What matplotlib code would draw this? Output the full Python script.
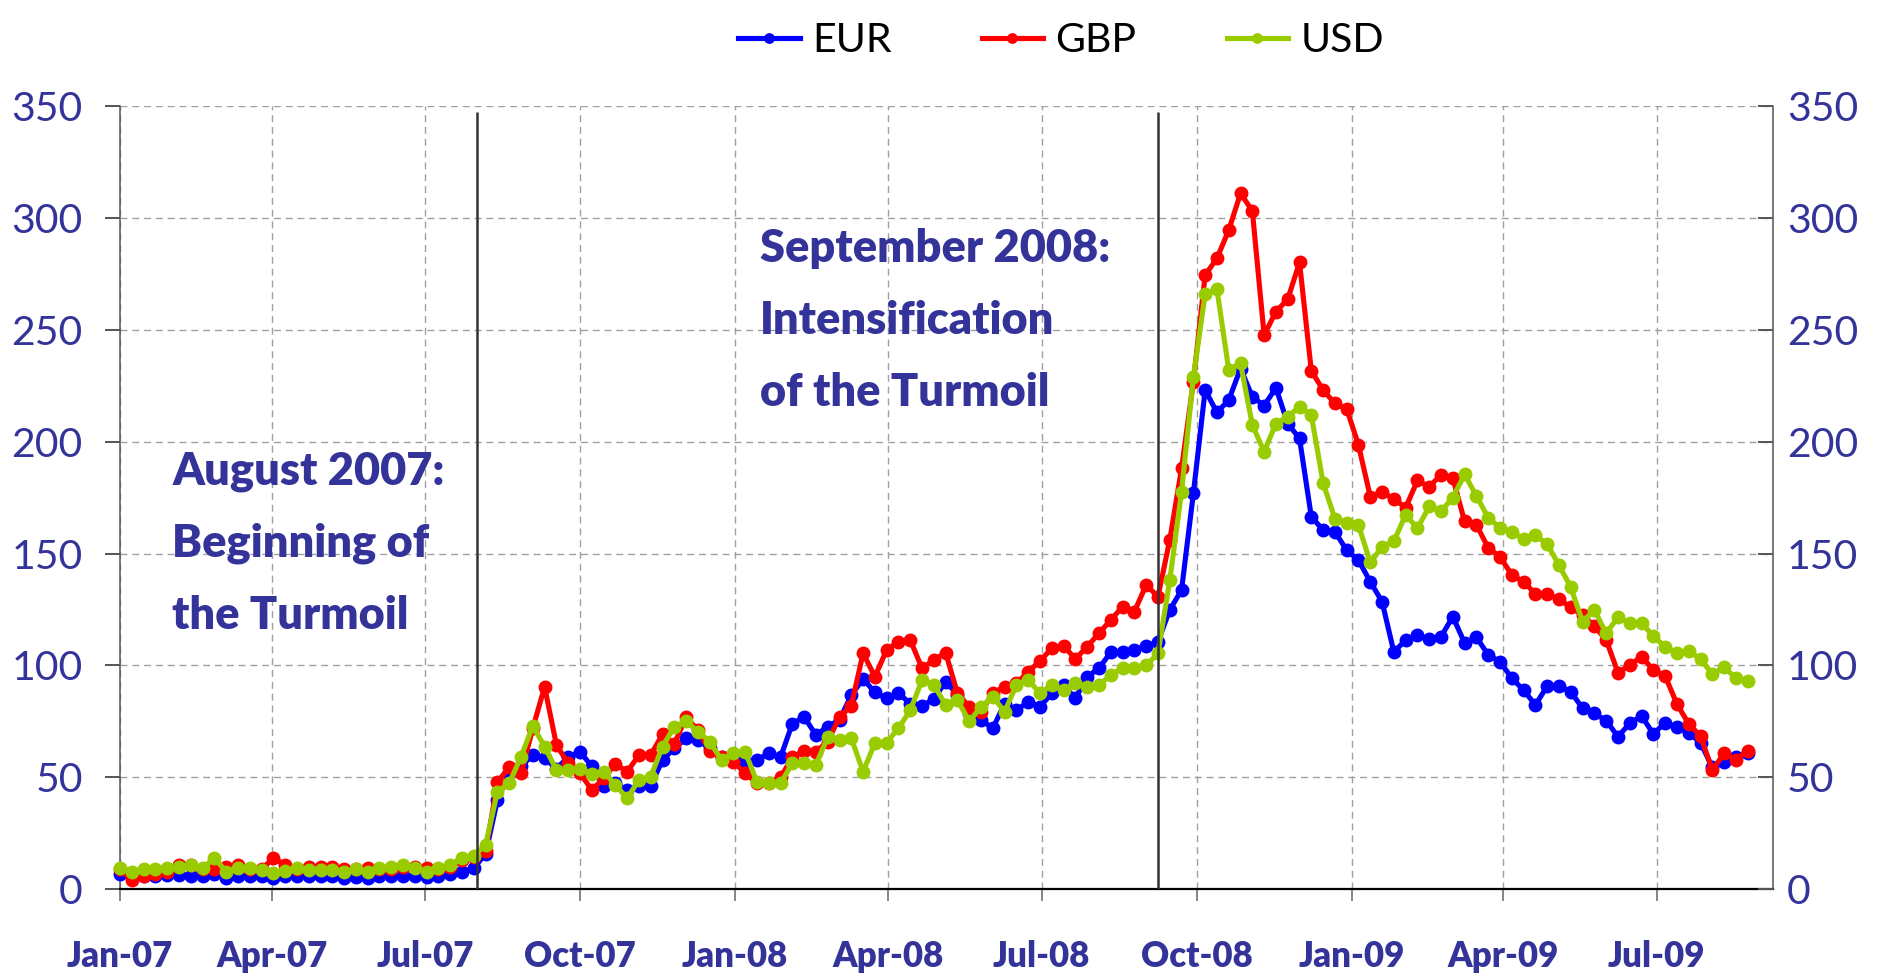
import matplotlib
matplotlib.use("Agg")
import matplotlib.pyplot as plt
import pandas as pd

plt.rcParams["font.family"] = ["Lato", "DejaVu Sans"]

NAVY = "#333399"

# weekly observations, first week of Jan 2007 to end of Aug 2009
dates = pd.date_range("2007-01-01", periods=139, freq="7D")

eur = [7, 6, 6, 6, 6.5, 6.5, 6, 6, 7, 5, 6, 6, 6, 5, 6, 6, 6, 6, 6, 5,
       5.5, 5, 6, 6, 6, 6, 5.5, 6, 7, 8, 9.5, 16, 40, 52, 55, 60, 58.5, 54, 59, 61.5,
       55, 46, 47.4, 44.4, 46, 46.4, 57.8, 63, 67.5, 66.7, 63, 59, 58.5, 57, 57.8, 60.8, 59, 74, 77, 69,
       72.7, 75.7, 86.8, 94, 88, 85.3, 87.6, 83, 82, 85, 92.8, 87, 78.6, 75.7, 72, 83, 80, 83.8, 81.6, 87.6,
       91.3, 85.3, 95, 98.7, 106, 106, 107, 108.7, 110.6, 124.8, 133.7, 176.8, 223, 213, 218.5, 232.6, 220, 216, 224, 208,
       201.4, 166.4, 160.5, 159.7, 151.5, 147, 137.4, 128.5, 106, 111.4, 113.6, 111.7, 112.9, 121.8, 110, 112.6, 104.7, 101.7, 94.3, 89,
       82.4, 90.8, 90.8, 88.3, 80.9, 78.6, 75.4, 68.2, 74.2, 77.5, 69.4, 74.5, 72.4, 70, 65.5, 54.5, 57, 59.3, 61]

gbp = [9, 4.2, 6, 7, 8, 11, 11, 9, 9, 10, 11, 9, 9, 14, 11, 9, 10, 10, 10, 9,
       9, 9.5, 9, 9, 10, 10, 9.5, 9, 10, 13, 14.7, 17, 47.8, 54.8, 51.9, 72, 90.5, 64.5, 56.3, 51.9,
       44.4, 49.6, 56, 52.6, 60, 60, 69.4, 65, 77, 71, 62, 59, 57, 52, 47.4, 47.4, 50, 59, 62, 61.5,
       66, 77, 82, 105.5, 95, 107, 110.6, 111.4, 98.7, 102.5, 105.7, 87.6, 81.6, 79.4, 87.6, 90.6, 92, 97.2, 102, 107.7,
       108.7, 103, 108.4, 114.4, 120.3, 126.3, 124, 136, 130.7, 156, 188, 226.7, 274.3, 281.8, 294.4, 310.8, 303, 247.5, 258, 263.5,
       280, 231.6, 223, 217, 214.6, 198.4, 175.4, 177.6, 174.3, 170.5, 182.6, 179.8, 185.2, 183.6, 164.3, 162.8, 152.5, 148.6, 140.4, 137.4,
       132, 132, 129.5, 126, 122.5, 117.6, 111.4, 96.8, 100.2, 104, 98, 95.3, 82.8, 73.9, 68.5, 53.3, 60.8, 58, 62]

usd = [9.7, 8, 9, 9, 9.5, 10, 11, 9.5, 14, 8, 9.5, 9.5, 8.7, 7.2, 8.4, 9.5, 8.7, 8.7, 8.7, 8,
       9, 8, 9.7, 10.2, 11, 9.5, 8, 9.5, 11, 14, 15, 20, 43.7, 47.4, 59.3, 73, 63.8, 53.3, 53.3, 54,
       51.6, 52.6, 46.7, 40.7, 48.9, 50.4, 63.8, 72.7, 75, 70.5, 66, 57.8, 61, 61.5, 48, 47.4, 47.4, 56.3, 56.3, 55.6,
       68, 66.7, 67.5, 52.6, 65.3, 65.6, 72, 80, 93.5, 91.3, 82.4, 84.6, 75, 81.6, 86, 79.4, 91.3, 93.5, 87.6, 91.3,
       89, 92.3, 90.6, 91.3, 95.7, 99, 98.7, 100, 105.4, 138, 177.6, 228.6, 266, 268, 232, 235, 207.4, 195.5, 208, 211,
       215.6, 211.8, 181.5, 165.5, 163.6, 162.7, 146, 153, 155.5, 167.3, 161.3, 171, 168.8, 175, 185.3, 175.7, 166, 161.5, 159.7, 156.3,
       158.2, 154.2, 144.8, 134.9, 119.5, 124.8, 114.4, 121.5, 119, 119, 113, 108.4, 105.7, 106.6, 102.8, 96.2, 99.2, 94.3, 93.2]

series = [("EUR", eur, "#0000FF"), ("GBP", gbp, "#FF0000"), ("USD", usd, "#99CC00")]

tick_dates = pd.to_datetime(["2007-01-01", "2007-04-01", "2007-07-01", "2007-10-01",
                             "2008-01-01", "2008-04-01", "2008-07-01", "2008-10-01",
                             "2009-01-01", "2009-04-01", "2009-07-01"])
tick_labels = ["Jan-07", "Apr-07", "Jul-07", "Oct-07", "Jan-08", "Apr-08",
               "Jul-08", "Oct-08", "Jan-09", "Apr-09", "Jul-09"]
y_ticks = [0, 50, 100, 150, 200, 250, 300, 350]

events = pd.to_datetime(["2007-08-01", "2008-09-08"])
# (x, y of last text line's baseline, text)
notes = [("2007-02-01", 116.5, "August 2007:\nBeginning of\nthe Turmoil"),
         ("2008-01-16", 216, "September 2008:\nIntensification\nof the Turmoil")]

fig = plt.figure(figsize=(18.81, 9.74), dpi=100)
ax = fig.add_axes([120 / 1881, 0.0868, (1773 - 120) / 1881, 0.8916 - 0.0868])

for name, vals, col in series:
    ax.plot(dates, vals, color=col, lw=3.7, marker="o", ms=9, label=name,
            clip_on=False, zorder=3)

ax.vlines(events, 0, 347, color="#333333", lw=1.8, zorder=4)

for x, y, txt in notes:
    ax.text(pd.Timestamp(x), y, txt, color=NAVY, fontsize=32.5, fontweight="heavy",
            ha="left", va="baseline", linespacing=1.9)

ax.set_xlim(pd.Timestamp("2007-01-01"), pd.Timestamp("2009-09-08"))
ax.set_ylim(0, 350)
ax.set_xticks(tick_dates, tick_labels)
ax.set_yticks(y_ticks)

grid_kw = dict(color="#a0a0a0", lw=1.0, linestyle=(0, (5, 3.5)))
ax.grid(True, **grid_kw)
ax.set_axisbelow(True)

ax.spines["top"].set_visible(False)
ax.spines["right"].set_visible(False)
ax.spines["bottom"].set_color("black")
ax.spines["bottom"].set_linewidth(1.6)
ax.spines["left"].set_color("#555555")
ax.spines["left"].set_linewidth(1.1)

ax.tick_params(axis="x", direction="out", length=8.6, width=1.1, color="#666666",
               pad=28, labelsize=25, labelcolor=NAVY)
for lab in ax.get_xticklabels():
    lab.set_fontweight("heavy")
ax.tick_params(axis="y", direction="out", length=10.8, width=1.4, color="#555555",
               pad=16, labelsize=29.5, labelcolor=NAVY)

ax2 = ax.twinx()
ax2.set_ylim(0, 350)
ax2.set_yticks(y_ticks)
for side in ["top", "left", "bottom"]:
    ax2.spines[side].set_visible(False)
ax2.spines["right"].set_color("#555555")
ax2.spines["right"].set_linewidth(1.1)
ax2.tick_params(axis="y", direction="in", length=10.8, width=1.4, color="#555555",
                pad=10, labelsize=29.5, labelcolor=NAVY)

handles, labels = ax.get_legend_handles_labels()
fig.legend(handles, labels, loc="center", bbox_to_anchor=(1061 / 1881, 1 - 41 / 974),
           ncol=3, frameon=False, fontsize=29.5, handlelength=1.5, handletextpad=0.3,
           columnspacing=2.2, numpoints=1, markerscale=0.75)

fig.savefig("out.png", dpi=100)
